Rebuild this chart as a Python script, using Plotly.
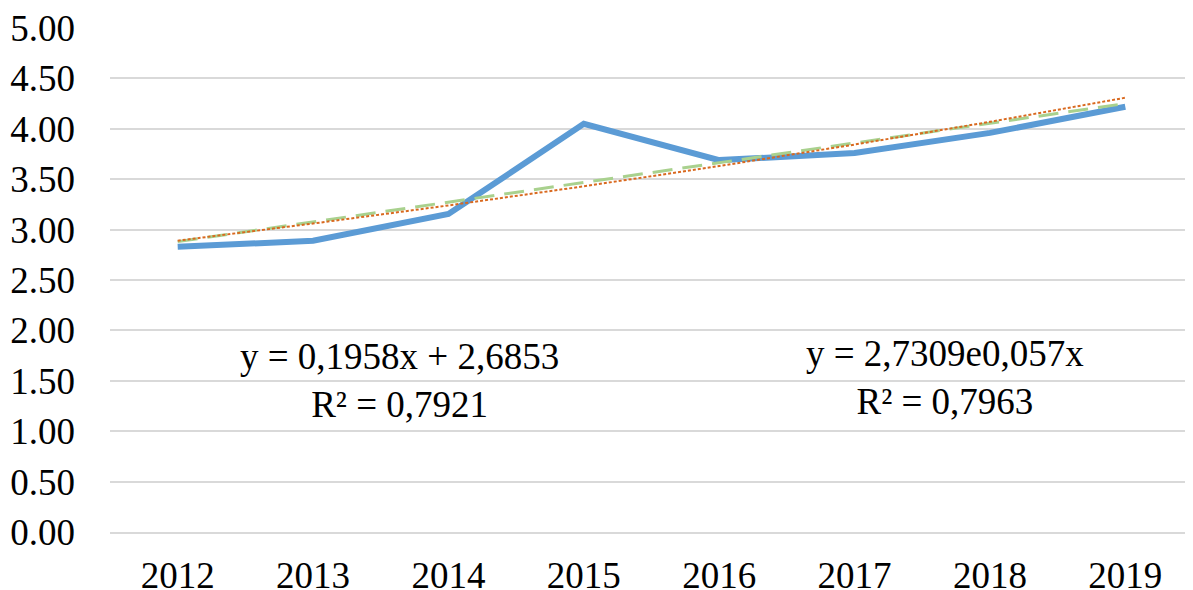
import numpy as np
import plotly.graph_objects as go

years = ["2012", "2013", "2014", "2015", "2016", "2017", "2018", "2019"]
values = [2.83, 2.89, 3.155, 4.05, 3.69, 3.76, 3.96, 4.22]

# trendline coefficients shown on the chart
lin_slope, lin_intercept = 0.1958, 2.6853
exp_a, exp_b = 2.7309, 0.057
lin_label = "y = 0,1958x + 2,6853<br>R² = 0,7921"
exp_label = "y = 2,7309e0,057x<br>R² = 0,7963"

y_ticks = [0, 0.5, 1, 1.5, 2, 2.5, 3, 3.5, 4, 4.5, 5]

xi = np.arange(len(years))
xn = xi + 1
lin_trend = lin_slope * xn + lin_intercept
exp_trend = exp_a * np.exp(exp_b * xn)

font = "Liberation Serif, Times New Roman, serif"

fig = go.Figure()
fig.add_trace(go.Scatter(x=xi, y=values, mode="lines",
                         line=dict(color="#5B9BD5", width=6), showlegend=False))
fig.add_trace(go.Scatter(x=xi, y=lin_trend, mode="lines",
                         line=dict(color="#A9D18E", width=3, dash="20px,10px"), showlegend=False))
fig.add_trace(go.Scatter(x=xi, y=exp_trend, mode="lines",
                         line=dict(color="#D9691F", width=2, dash="3px,2px"), showlegend=False))

fig.add_annotation(x=1.64, y=1.50, xref="x", yref="y", text=lin_label, showarrow=False,
                   font=dict(family=font, size=37, color="black"), align="center")
fig.add_annotation(x=5.67, y=1.53, xref="x", yref="y", text=exp_label, showarrow=False,
                   font=dict(family=font, size=37, color="black"), align="center")

fig.update_layout(
    width=1185, height=582,
    margin=dict(l=102, r=0, t=20, b=58),
    paper_bgcolor="white", plot_bgcolor="white",
    font=dict(family=font, size=37, color="black"),
    xaxis=dict(range=[-0.5, 7.5], tickvals=list(xi), ticktext=years, automargin=False,
               showgrid=False, showline=True, linecolor="#D9D9D9", linewidth=2,
               ticks="", ticklabelstandoff=10, zeroline=False, ticklabeloverflow="allow"),
    yaxis=dict(range=[0, 5.001], tickvals=y_ticks, ticktext=[f"{v:.2f}" for v in y_ticks],
               automargin=False, ticklabeloverflow="allow",
               showgrid=True, gridcolor="#D9D9D9", gridwidth=2, zeroline=False,
               showline=False, ticks="", ticklabelstandoff=34),
)

fig.write_html("out.html")
